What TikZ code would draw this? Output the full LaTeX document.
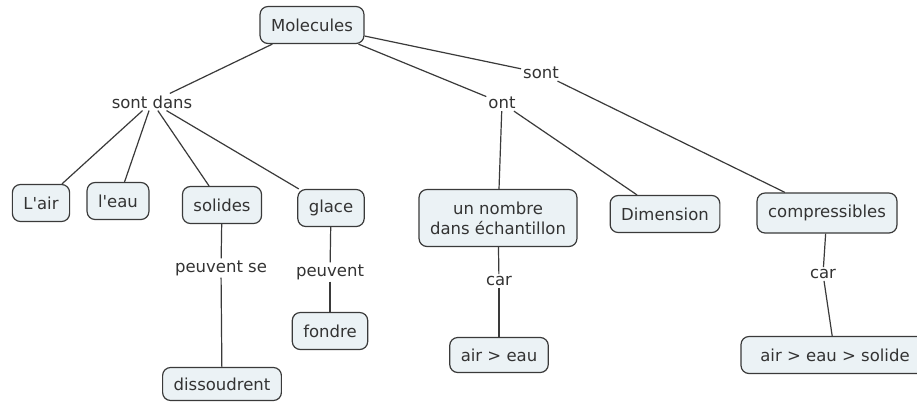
\documentclass[tikz,border=0pt]{standalone}
\usepackage{fontspec}
\setmainfont[Ligatures=TeXOff]{DejaVu Sans}
\definecolor{boxfill}{HTML}{EBF2F5}
\definecolor{boxline}{HTML}{3A3A3A}
\definecolor{txt}{HTML}{333333}
\begin{document}
\begin{tikzpicture}[x=1pt,y=-1pt,
  concept/.style={draw=boxline, line width=1.2pt, fill=boxfill, rounded corners=8pt,
    text=txt, font=\fontsize{16.5}{20}\selectfont, inner xsep=11pt, minimum height=37pt, align=center},
  lbl/.style={text=txt, font=\fontsize{16.5}{20}\selectfont, inner sep=2pt, fill=white},
  link/.style={draw=boxline, line width=1.2pt}]
\useasboundingbox (0,0) rectangle (917,405);
\fill[white] (0,0) rectangle (917,405);
% linking phrases
\node[lbl] (sd) at (152,102) {sont dans};
\node[lbl] (ont) at (502,103) {ont};
\node[lbl] (sont) at (541,73) {sont};
\node[lbl] (ps) at (221,268) {peuvent se};
\node[lbl] (pv) at (330,272) {peuvent};
\node[lbl] (car1) at (499,281) {car};
\node[lbl] (car2) at (823,274) {car};
% concepts
\node[concept] (mol) at (312,25) {Molecules};
\node[concept] (air) at (41,203) {L'air};
\node[concept] (eau) at (118,201) {l'eau};
\node[concept] (sol) at (222,205) {solides};
\node[concept] (gla) at (331,208) {glace};
\node[concept, minimum height=57pt] (nom) at (498,218) {un nombre\\dans échantillon};
\node[concept] (dim) at (665,214) {Dimension};
\node[concept, minimum height=40pt] (comp) at (827,213) {compressibles};
\node[concept, minimum height=33pt] (dis) at (222,384) {dissoudrent};
\node[concept] (fon) at (330,331) {fondre};
\node[concept, minimum height=35pt] (ae) at (499,355) {air > eau};
\node[concept, minimum width=188pt] (aes) at (835,355) {air > eau > solide};
% connectors
\draw[link] (mol) -- (sd);
\draw[link] (mol) -- (ont);
\draw[link] (mol) -- (sont);
\draw[link] (sont) -- (comp);
\draw[link] (ont) -- (nom);
\draw[link] (ont) -- (dim);
\draw[link] (sd) -- (air);
\draw[link] (sd) -- (eau);
\draw[link] (sd) -- (sol);
\draw[link] (sd) -- (gla);
\draw[link] (sol) -- (ps);
\draw[link] (ps) -- (dis);
\draw[link] (gla) -- (pv);
\draw[link] (pv) -- (fon);
\draw[link] (nom) -- (car1);
\draw[link] (car1) -- (ae);
\draw[link] (comp) -- (car2);
\draw[link] (car2) -- (aes);
\end{tikzpicture}
\end{document}
